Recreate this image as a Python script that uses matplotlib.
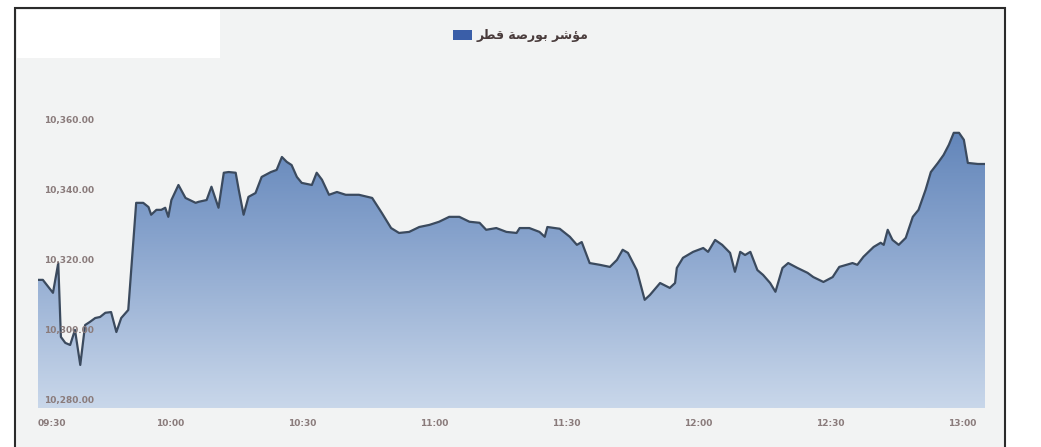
import numpy as np
import matplotlib
matplotlib.use('Agg')
import matplotlib.pyplot as plt
from matplotlib.patches import Rectangle, Patch
from matplotlib.colors import LinearSegmentedColormap

# minutes after 09:30 and index value
minutes = [0, 1.1, 3.4, 4.6, 5.2, 6.2, 7.3, 8.4, 9.6, 10.7, 11.8, 13.0, 14.1, 15.3, 16.6,
           17.8, 18.9, 20.5, 22.3, 23.9, 25.1, 25.7, 26.9, 28.0, 28.9, 29.6, 30.3, 31.9,
           33.5, 35.8, 36.5, 38.3, 39.4, 41.0, 42.2, 43.3, 44.9, 45.6, 46.7, 47.8, 49.4,
           50.8, 52.9, 54.2, 55.4, 56.5, 57.6, 58.8, 59.9, 62.2, 63.3, 64.5, 66.1, 67.9,
           69.9, 72.9, 75.9, 78.1, 80.2, 82.0, 84.3, 86.6, 88.9, 91.1, 93.4, 95.7, 98.0,
           100.3, 101.8, 104.1, 106.4, 108.7, 109.4, 111.6, 113.9, 115.1, 115.7, 118.5,
           120.8, 122.4, 123.5, 125.3, 127.6, 129.9, 131.5, 132.8, 134.0, 136.0, 137.8,
           139.0, 141.3, 143.5, 144.7, 145.1, 146.5, 148.8, 151.1, 152.2, 153.8, 155.4,
           157.2, 158.3, 159.5, 160.6, 161.8, 163.4, 164.7, 166.3, 167.5, 169.1, 170.4,
           172.5, 174.8, 176.1, 178.4, 180.5, 182.0, 185.0, 186.1, 187.5, 189.8, 191.4,
           192.1, 193.0, 194.1, 195.5, 197.1, 198.7, 200.0, 201.6, 202.8, 204.4, 205.7,
           206.9, 208.0, 209.2, 210.3, 211.2, 213.5, 215.1]
values = [10314.3, 10314.3, 10310.6, 10319.1, 10298.0, 10296.3, 10295.7, 10300.0, 10290.0,
          10301.4, 10302.3, 10303.4, 10303.7, 10304.9, 10305.1, 10299.4, 10303.4, 10305.7,
          10336.3, 10336.3, 10335.1, 10332.9, 10334.3, 10334.3, 10334.9, 10332.3, 10337.1,
          10341.4, 10337.7, 10336.3, 10336.6, 10337.1, 10340.9, 10334.9, 10344.9, 10345.1,
          10344.9, 10340.0, 10332.9, 10338.0, 10339.1, 10343.7, 10345.1, 10345.7, 10349.4,
          10348.0, 10347.1, 10343.7, 10342.0, 10341.4, 10344.9, 10342.9, 10338.6, 10339.4,
          10338.6, 10338.6, 10337.7, 10333.4, 10329.1, 10327.7, 10328.0, 10329.4, 10330.0,
          10330.9, 10332.3, 10332.3, 10330.9, 10330.6, 10328.6, 10329.1, 10328.0, 10327.7,
          10329.1, 10329.1, 10328.0, 10326.6, 10329.4, 10328.9, 10326.6, 10324.3, 10325.1,
          10319.1, 10318.6, 10318.0, 10320.0, 10322.9, 10322.0, 10317.1, 10308.6, 10310.0,
          10313.4, 10312.0, 10313.4, 10317.7, 10320.6, 10322.3, 10323.4, 10322.3, 10325.7,
          10324.3, 10322.0, 10316.6, 10322.3, 10321.4, 10322.3, 10317.1, 10315.7, 10313.4,
          10310.9, 10317.7, 10319.1, 10317.7, 10316.3, 10315.1, 10313.7, 10315.1, 10318.0,
          10319.1, 10318.6, 10320.9, 10323.7, 10324.9, 10324.3, 10328.6, 10325.7, 10324.3,
          10326.3, 10332.3, 10334.3, 10340.0, 10345.1, 10347.7, 10350.0, 10352.9, 10356.3,
          10356.3, 10354.3, 10347.7, 10347.4, 10347.4]

xticks = [0, 30, 60, 90, 120, 150, 180, 210]
xlabels = ['09:30', '10:00', '10:30', '11:00', '11:30', '12:00', '12:30', '13:00']
yticks = [10280, 10300, 10320, 10340, 10360]
series_name = 'مؤشر بورصة قطر'

# matplotlib does no arabic shaping, so pick presentation forms by hand
# (isolated, final, initial, medial); two-form letters do not join the next one
FORMS = {
    'م': '\uFEE1\uFEE2\uFEE3\uFEE4', 'ش': '\uFEB5\uFEB6\uFEB7\uFEB8',
    'ب': '\uFE8F\uFE90\uFE91\uFE92', 'ص': '\uFEB9\uFEBA\uFEBB\uFEBC',
    'ق': '\uFED5\uFED6\uFED7\uFED8', 'ط': '\uFEC1\uFEC2\uFEC3\uFEC4',
    'ؤ': '\uFE85\uFE86', 'ر': '\uFEAD\uFEAE', 'و': '\uFEED\uFEEE', 'ة': '\uFE93\uFE94',
}

def shape(text):
    out = []
    for word in text.split(' '):
        chars = []
        for i, c in enumerate(word):
            prev_joins = i > 0 and len(FORMS[word[i-1]]) == 4
            next_joins = i < len(word) - 1 and len(FORMS[c]) == 4
            f = FORMS[c]
            if prev_joins and next_joins:
                chars.append(f[3])
            elif next_joins:
                chars.append(f[2])
            elif prev_joins:
                chars.append(f[1])
            else:
                chars.append(f[0])
        out.append(''.join(chars[::-1]))
    return ' '.join(out[::-1])

W, H = 1041, 447
fig = plt.figure(figsize=(W/100, H/100), dpi=100)
fig.patch.set_facecolor('white')

# outer panel and the white box in its corner
fig.patches.append(Rectangle((15/W, -0.05), 990/W, (H-8)/H + 0.05, transform=fig.transFigure,
                             facecolor='#f2f3f3', edgecolor='#2b2b2b', lw=1.5, zorder=-2))
fig.patches.append(Rectangle((17/W, 1-58/H), 203/W, 48/H, transform=fig.transFigure,
                             facecolor='white', edgecolor='none', zorder=-1))

ax = fig.add_axes([38/W, 39/H, 947/W, 348/H])
ax.set_facecolor('none')
ymin, ymax = 10277.7, 10377.1
ax.set_xlim(0, 215.1)
ax.set_ylim(ymin, ymax)

# gradient fill under the line
cmap = LinearSegmentedColormap.from_list('g', ['#c9d7ea', '#86a2cc', '#4a72ad'])
grad = np.linspace(0, 1, 256).reshape(-1, 1)
img = ax.imshow(grad, cmap=cmap, origin='lower', aspect='auto',
                extent=[0, 215.1, ymin, ymax], zorder=0.5)
poly = ax.fill_between(minutes, values, ymin, color='none', lw=0)
img.set_clip_path(poly.get_paths()[0], transform=ax.transData)
ax.plot(minutes, values, color='#3b4a5e', lw=1.6, zorder=2)

for s in ax.spines.values():
    s.set_visible(False)

ax.set_yticks(yticks)
ax.set_yticklabels(['{:,.2f}'.format(v) for v in yticks], ha='left')
ax.set_xticks(xticks)
ax.set_xticklabels(xlabels)
ax.tick_params(axis='y', length=0, pad=-4, labelsize=6.5, labelcolor='#8a7b7b')
ax.tick_params(axis='x', length=0, pad=8, labelsize=6.5, labelcolor='#8a7b7b')
for t in ax.get_xticklabels() + ax.get_yticklabels():
    t.set_fontweight('bold')
ax.get_xticklabels()[0].set_ha('left')
ax.set_axisbelow(False)

fig.legend(handles=[Patch(facecolor='#3a5ea8', edgecolor='none')], labels=[shape(series_name)],
           loc='center', bbox_to_anchor=(521/W, 1-36/H), frameon=False,
           handlelength=1.5, handleheight=0.9, handletextpad=0.4,
           prop={'family': 'DejaVu Sans', 'size': 9, 'weight': 'bold'}, labelcolor='#4a3c3c')

fig.savefig('out.png', dpi=100)
